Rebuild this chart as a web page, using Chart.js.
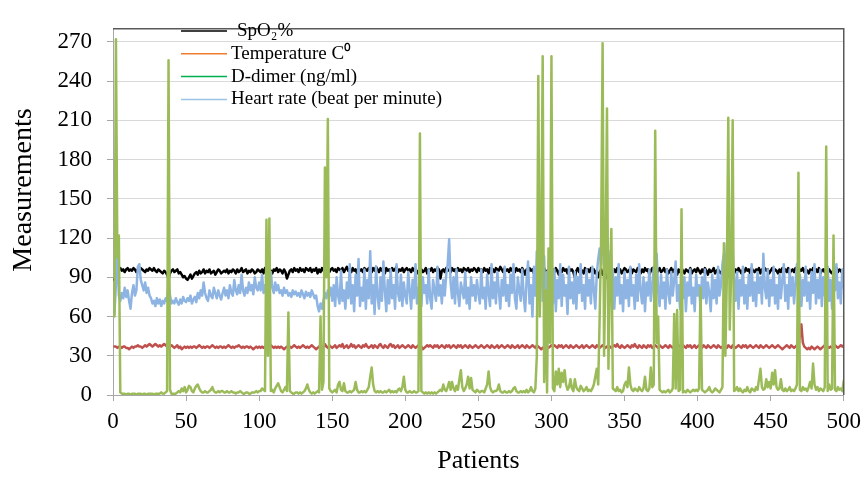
<!DOCTYPE html>
<html>
<head>
<meta charset="utf-8">
<script src="https://cdn.jsdelivr.net/npm/chart.js@4.4.1/dist/chart.umd.min.js"></script>
<style>
  html, body { margin: 0; padding: 0; background: #fff; }
  #wrap { width: 868px; height: 477px; }
</style>
</head>
<body>
<div id="wrap"><canvas id="chart"></canvas></div>
<script>
// Patients 1..500 (x categories)
const patients = [];
for (let i = 1; i <= 500; i++) patients.push(i);

const xTicks = [0, 50, 100, 150, 200, 250, 300, 350, 400, 450, 500];
const yTicks = [0, 30, 60, 90, 120, 150, 180, 210, 240, 270];
const yTitle = 'Measurements';

// SpO2 %
const spo2 = [
  88,92,95,96,97, 95,96,94,96,97, 95,96,95,97,96, 94,96,95,97,96, 95,94,96,95,97,
  96,95,97,95,94, 96,95,94,93,95, 94,92,89,93,95, 96,94,95,96,93, 94,92,90,91,89,
  88,90,92,89,91, 93,94,92,95,93, 94,96,93,95,94, 96,93,94,95,92, 94,96,95,93,94,
  95,94,96,93,95, 94,96,95,93,96, 94,95,97,94,95, 96,93,95,94,96, 95,93,94,96,95,
  94,96,93,97,95, 94,96,95,93,96, 95,97,94,96,95, 93,96,94,89,92, 95,96,94,97,95,
  96,94,97,95,96, 94,97,96,95,97, 94,96,95,97,93, 96,94,97,95,96, 97,95,94,96,97,
  95,96,94,97,96, 95,97,94,96,98, 95,96,94,97,95, 96,93,97,95,96, 94,97,96,95,97,
  96,94,97,95,98, 96,94,97,95,96, 93,97,95,96,94, 97,95,96,98,94, 96,95,97,94,96,
  97,95,96,94,97, 95,96,93,95,97, 96,94,95,97,93, 96,95,97,94,96, 95,97,96,89,95,
  96,94,97,95,96, 94,97,95,96,93, 97,95,96,94,97, 96,95,97,94,96, 95,97,96,94,97,
  95,96,94,97,95, 96,93,97,95,96, 94,97,96,95,98, 96,94,97,95,96, 94,97,95,96,94,
  97,95,96,94,97, 95,92,96,94,97, 95,96,93,95,97, 89,94,96,92,97, 95,91,96,94,90,
  96,94,97,95,92, 96,94,97,95,96, 93,97,95,96,94, 90,95,97,94,96, 95,93,97,95,96,
  94,97,95,96,93, 95,90,94,96,92, 95,89,96,94,97, 95,93,96,94,97, 95,96,93,95,97,
  96,94,95,97,93, 96,95,94,97,95, 93,96,94,97,95, 96,92,95,97,94, 96,93,95,97,94,
  95,97,94,96,93, 95,97,94,96,95, 92,96,94,97,95, 93,96,95,94,97, 93,95,96,94,97,
  95,93,96,94,97, 95,92,96,94,95, 97,93,95,96,94, 93,96,92,95,89, 94,96,92,95,93,
  96,94,97,95,93, 96,94,97,95,96, 93,97,95,94,96, 95,97,93,96,94, 97,95,96,93,95,
  97,94,96,95,93, 96,94,97,95,96, 94,97,93,95,96, 94,97,95,93,96, 95,97,94,96,95,
  93,96,94,97,95, 96,94,97,93,95, 96,94,97,95,96, 94,93,96,95,97, 94,96,95,93,96
];

// Temperature C
const temperature = [
  37,37,36,37,37, 36,37,37,36,36, 35,36,37,36,37, 37,38,37,37,36, 37,38,37,38,39,
  38,37,38,39,38, 37,38,37,38,39, 38,37,36,37,38, 37,36,37,38,36, 37,35,36,37,36,
  37,36,37,36,37, 37,36,37,38,37, 36,37,36,37,37, 36,37,38,37,36, 37,36,37,37,36,
  37,36,37,38,37, 36,37,36,37,37, 38,37,36,37,36, 37,37,36,37,36, 35,36,37,36,37,
  36,37,36,37,35, 36,37,38,37,36, 37,36,37,36,37, 36,35,36,37,36, 37,36,37,38,37,
  36,37,36,37,38, 37,36,37,36,37, 38,37,36,35,36, 37,38,36,37,39, 37,36,38,37,36,
  37,38,36,37,38, 37,39,36,37,38, 36,37,39,37,38, 36,37,38,37,36, 38,37,39,37,36,
  37,38,36,38,37, 36,38,39,37,36, 38,37,36,38,39, 37,38,36,37,38, 36,37,38,37,36,
  37,38,37,36,38, 37,36,37,38,36, 37,35,36,37,38, 37,38,37,36,38, 37,38,36,37,38,
  37,36,38,37,38, 36,37,38,37,36, 38,37,38,36,37, 38,37,36,38,37, 36,37,38,37,36,
  37,38,37,36,37, 38,37,36,38,37, 36,37,38,36,37, 38,37,36,37,38, 37,36,38,37,36,
  37,38,36,37,38, 37,36,38,37,36, 37,38,37,36,38, 37,36,35,36,37, 38,37,36,37,38,
  37,38,37,36,38, 37,38,36,37,38, 37,36,38,37,36, 37,38,37,36,37, 38,36,37,38,37,
  36,37,38,37,36, 38,37,36,37,38, 37,36,37,38,37, 36,37,38,37,39, 37,36,38,37,36,
  37,38,37,36,38, 37,39,37,36,38, 37,36,38,37,36, 38,37,38,36,37, 38,37,36,38,37,
  36,37,38,37,36, 38,37,36,37,38, 36,38,37,36,38, 37,36,38,37,38, 36,37,38,36,37,
  38,37,36,38,37, 36,38,37,36,37, 38,37,36,38,37, 36,37,38,37,36, 38,37,36,38,37,
  36,37,38,37,36, 38,37,38,36,37, 38,37,36,37,38, 37,36,38,37,36, 37,38,37,36,37,
  38,37,36,37,38, 37,36,35,36,37, 38,37,36,38,37, 36,37,38,37,45, 54,40,37,36,35,
  36,35,37,36,35, 36,37,36,35,36, 37,38,36,37,36, 37,36,37,38,37, 36,37,38,37,38
];

// D-dimer (ng/ml)
const dDimer = [
  60,272,105,122,2, 1,1,1,0,1, 1,0,1,1,1, 0,1,1,1,0, 1,1,0,1,1,
  1,1,0,1,1, 1,1,2,1,1, 2,3,256,4,1, 1,1,1,2,3, 2,5,3,6,2,
  4,7,6,3,2, 5,7,8,5,3, 2,2,3,2,2, 3,4,6,3,2, 2,3,2,3,3,
  2,2,3,2,2, 3,2,2,1,2, 2,3,2,1,1, 2,2,1,1,2, 2,2,3,2,3,
  3,5,4,3,134, 30,135,3,4,2, 5,7,9,6,3, 2,4,6,3,63, 3,2,1,1,2,
  2,1,2,1,2, 3,5,8,4,2, 1,2,1,2,3, 2,60,4,10,174, 90,211,5,3,2,
  3,4,2,8,10, 4,3,9,3,2, 2,3,2,3,4, 10,4,2,2,3, 2,3,2,4,6,
  14,21,8,3,2, 3,2,3,2,2, 3,2,3,4,2, 3,2,3,2,4, 5,3,6,14,4,
  2,2,3,2,2, 3,2,2,3,200, 3,2,1,2,1, 2,1,2,1,2, 1,2,3,4,3,
  8,4,3,6,10, 4,10,5,3,7, 4,12,19,6,3, 5,8,14,5,13, 4,3,2,4,3,
  2,3,3,2,5, 8,18,6,3,2, 3,3,4,8,3, 2,2,3,2,2, 3,2,3,5,6,
  3,2,2,3,2, 3,2,4,2,3, 6,3,2,5,30, 244,60,110,259,10, 80,2,112,40,259,
  5,3,18,8,20, 6,17,10,19,8, 4,6,12,5,3, 12,6,4,3,7, 5,3,4,6,3,
  4,3,5,8,14, 20,8,60,120,269, 30,100,219,20,90, 127,5,4,3,6, 3,4,2,3,8,
  10,6,21,8,4, 3,5,4,3,6, 4,3,5,14,4, 3,5,21,6,8, 202,40,60,4,3,
  2,3,2,3,4, 2,3,5,62,5, 65,3,4,142,2, 3,2,4,3,2, 3,4,3,4,3,
  5,82,4,3,2, 3,4,6,3,2, 3,5,4,3,2, 4,6,116,30,90, 212,50,95,210,3,
  4,6,3,5,3, 2,4,3,6,3, 2,5,4,3,6, 4,12,20,6,4, 5,12,6,10,5,
  17,8,19,6,4, 5,12,4,3,5, 3,4,6,3,4, 3,5,8,170,4, 3,6,4,5,3,
  6,10,5,24,8, 4,6,3,5,4, 3,6,190,3,8, 4,5,122,4,3, 6,4,5,3,11
];

// Heart rate (beat per minute)
const heartRate = [
  62,85,108,76,72, 78,74,82,75,80, 72,66,78,84,76, 80,98,100,88,84, 80,86,78,82,76,
  74,70,72,68,74, 70,73,68,72,70, 74,72,86,76,70, 72,70,74,71,69, 73,70,75,72,71,
  74,72,76,70,73, 75,71,78,74,80, 76,86,78,74,72, 80,76,74,82,78, 74,80,76,73,78,
  82,76,80,74,84, 78,76,88,80,77, 84,78,92,80,76, 82,78,86,80,84, 77,90,82,80,86,
  80,92,78,84,76, 88,80,94,82,78, 86,80,84,78,80, 76,82,78,80,76, 78,75,80,77,79,
  76,78,75,80,77, 74,79,76,78,75, 80,77,74,76,68, 64,70,66,72,78, 74,80,76,82,72,
  84,68,90,76,70, 95,72,80,66,86, 74,100,70,84,64, 92,76,104,68,82, 72,96,66,88,74,
  110,70,84,62,98, 76,66,90,72,102, 80,64,88,70,96, 74,84,66,100,78, 72,92,68,86,76,
  70,94,80,66,88, 74,100,70,82,76, 68,90,78,84,70, 96,74,66,88,80, 72,98,76,84,70,
  88,76,92,100,119, 86,74,90,70,96, 78,68,86,80,74, 94,70,82,66,90, 76,84,72,88,78,
  70,96,74,82,66, 92,78,68,100,74, 86,70,94,80,66, 88,76,98,72,84, 68,92,78,100,74,
  66,90,80,72,96, 76,64,88,102,70, 84,60,98,76,110, 86,100,120,72,106, 66,94,62,112,80,
  70,96,64,88,74, 100,68,92,76,84, 62,98,74,86,70, 94,66,90,78,100, 72,84,66,96,76,
  88,70,98,80,66, 92,104,112,100,120, 108,116,96,110,88, 72,96,66,90,76, 100,70,84,64,94,
  74,88,68,98,76, 84,66,92,72,100, 80,70,90,64,86, 76,96,72,84,98, 90,108,80,68,92,
  74,86,66,96,78, 70,94,76,88,102, 72,84,66,98,74, 90,64,86,76,96, 70,82,64,92,76,
  84,66,90,74,96, 70,86,78,64,92, 74,88,70,98,76, 84,100,108,92,116, 104,120,96,110,88,
  72,94,66,88,76, 98,70,84,66,92, 76,100,72,86,68, 94,78,90,70,108, 82,74,96,68,88,
  76,98,70,84,66, 92,74,88,100,72, 84,66,96,76,90, 70,86,100,74,92, 68,88,76,98,72,
  86,66,94,78,100, 70,88,74,96,68, 90,76,84,98,72, 88,66,94,80,100, 74,86,70,96,82
];

function toPoints(values) {
  return values.map((v, i) => ({ x: patients[i], y: v }));
}

Chart.defaults.font.family = '"Liberation Serif", "Times New Roman", serif';
Chart.defaults.color = '#000';

// plot-area frame (top and right), y title and the in-plot legend
const frameAndLegend = {
  id: 'frameAndLegend',
  afterDraw(chart) {
    const ctx = chart.ctx;
    const a = chart.chartArea;
    ctx.save();
    ctx.strokeStyle = '#595959';
    ctx.lineWidth = 1.5;
    ctx.beginPath();
    ctx.moveTo(a.left, a.top);
    ctx.lineTo(a.right, a.top);
    ctx.lineTo(a.right, a.bottom);
    ctx.stroke();

    // y axis title, sits a little above the middle like the original
    ctx.save();
    ctx.translate(24, 190);
    ctx.rotate(-Math.PI / 2);
    ctx.font = '28px "Liberation Serif", "Times New Roman", serif';
    ctx.textAlign = 'center';
    ctx.textBaseline = 'middle';
    ctx.fillStyle = '#000';
    ctx.fillText(yTitle, 0, 0);
    ctx.restore();

    ctx.font = '19px "Liberation Serif", "Times New Roman", serif';
    ctx.textBaseline = 'middle';
    ctx.textAlign = 'left';
    chart.data.datasets.forEach((ds, i) => {
      const y = 31 + i * 22.8;
      ctx.strokeStyle = ds.legendColor;
      ctx.lineWidth = 1.5;
      ctx.beginPath();
      ctx.moveTo(181, y);
      ctx.lineTo(227, y);
      ctx.stroke();
      ctx.fillStyle = '#000';
      ctx.fillText(ds.label, i === 0 ? 237 : 231, y);
    });
    ctx.restore();
  }
};

new Chart(document.getElementById('chart'), {
  type: 'line',
  data: {
    datasets: [
      { label: 'SpO₂%', data: toPoints(spo2), borderColor: '#000000', legendColor: '#000000', order: 4 },
      { label: 'Temperature C⁰', data: toPoints(temperature), borderColor: '#C0504D', legendColor: '#ED7D31', order: 3 },
      { label: 'D-dimer (ng/ml)', data: toPoints(dDimer), borderColor: '#9BBB59', legendColor: '#00B050', order: 1 },
      { label: 'Heart rate (beat per minute)', data: toPoints(heartRate), borderColor: '#8DB4E2', legendColor: '#9DC3E6', order: 2 }
    ]
  },
  options: {
    responsive: true,
    maintainAspectRatio: false,
    animation: false,
    events: [],
    layout: { padding: { top: 7, right: 19, left: 0, bottom: 0 } },
    elements: {
      point: { radius: 0 },
      line: { borderWidth: 2.5, tension: 0, borderJoinStyle: 'round', borderCapStyle: 'round' }
    },
    plugins: {
      legend: { display: false },
      tooltip: { enabled: false }
    },
    scales: {
      x: {
        type: 'linear',
        min: 0,
        max: 500,
        afterFit: s => { s.height = 82; },
        afterBuildTicks: s => { s.ticks = xTicks.map(v => ({ value: v })); },
        grid: { drawOnChartArea: false, drawTicks: true, tickLength: 6, tickColor: '#A6A6A6' },
        border: { color: '#A6A6A6', width: 1 },
        ticks: { font: { size: 23 }, padding: 7, maxRotation: 0, color: '#000' },
        title: { display: true, text: 'Patients', font: { size: 26 }, padding: { top: 0, bottom: 0 }, color: '#000' }
      },
      y: {
        min: 0,
        max: 280,
        afterFit: s => { s.width = 113; },
        afterBuildTicks: s => { s.ticks = yTicks.map(v => ({ value: v })); },
        grid: { color: '#D9D9D9', lineWidth: 1, drawTicks: true, tickLength: 6, tickColor: '#A6A6A6' },
        border: { color: '#A6A6A6', width: 1 },
        ticks: { font: { size: 23 }, padding: 15, color: '#000' }
      }
    }
  },
  plugins: [frameAndLegend]
});
</script>
</body>
</html>
